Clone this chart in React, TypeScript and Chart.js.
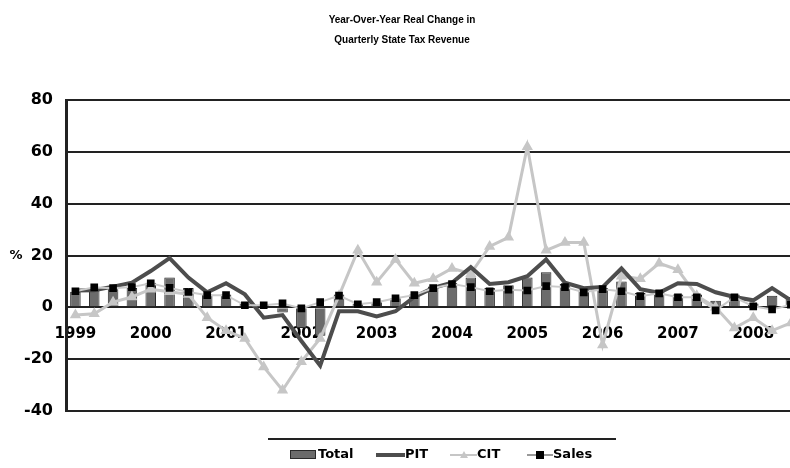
import React, { useEffect, useRef } from "react";
import Chart from "chart.js/auto";

const categories = [
  "1999Q1","1999Q2","1999Q3","1999Q4",
  "2000Q1","2000Q2","2000Q3","2000Q4",
  "2001Q1","2001Q2","2001Q3","2001Q4",
  "2002Q1","2002Q2","2002Q3","2002Q4",
  "2003Q1","2003Q2","2003Q3","2003Q4",
  "2004Q1","2004Q2","2004Q3","2004Q4",
  "2005Q1","2005Q2","2005Q3","2005Q4",
  "2006Q1","2006Q2","2006Q3","2006Q4",
  "2007Q1","2007Q2","2007Q3","2007Q4",
  "2008Q1","2008Q2","2008Q3",
];

const totalValues = [
  6, 6.5, 7, 7.5, 9.5, 11.5, 7.5, 5, 5, 1.5, 1, -2, -8, -11, 5, 1.5, 2, 3.5, 5, 8,
  9.5, 11.5, 7.5, 8.5, 11.5, 13.5, 9, 7, 7.5, 10, 5.5, 6, 5, 5, 2.5, 5, 1.5, 4.5, 4,
];
const pitValues = [
  6.5, 6.6, 8, 9.5, 14, 19, 11.5, 5.8, 9.3, 5, -4, -3, -13, -22.5, -1.5, -1.5, -3.5, -1.5, 4, 7.5,
  9.5, 15.5, 9, 9.7, 12, 18.5, 9.5, 7.4, 7.8, 15, 7, 5.6, 9.3, 9, 5.8, 4, 2.7, 7.4, 2.7,
];
const citValues = [
  -3, -2.5, 2, 4, 7, 6, 5, -4, -9, -12, -23, -32, -21, -12, 4.5, 22, 9.7, 18.5, 9.3, 11,
  15, 13, 23.5, 27, 62, 22, 25, 25, -14.5, 12, 11, 17, 14.5, 4.5, 0, -8, -4, -9, -6,
];
const salesValues = [
  6.2, 7.7, 7.4, 7.8, 9.3, 7.5, 5.9, 4.7, 4.7, 0.8, 0.8, 1.5, -0.4, 2, 4.5, 1.2, 2, 3.5, 4.7, 7.4,
  9, 7.8, 6.2, 6.8, 6.5, 8.2, 7.8, 5.8, 7, 6.2, 4.3, 5.4, 3.9, 3.9, -1.2, 3.9, 0.4, -0.8, 1,
];

const yTicks = [-40, -20, 0, 20, 40, 60, 80];
const titleLines = ["Year-Over-Year Real Change in", "Quarterly State Tax Revenue"];
const seriesNames = ["Total", "PIT", "CIT", "Sales"];

const FONT = '"Liberation Sans", Arial, sans-serif';
const WIDE = '"DejaVu Sans", sans-serif';

const C_BAR = "#6b6b6b";
const C_BAR_BORDER = "#2a2a2a";
const C_PIT = "#4d4d4d";
const C_CIT = "#c6c6c6";
const C_SALES_LINE = "#cacaca";

const decorPlugin = {
  id: "decor",
  afterDraw(chart: any) {
    const ctx = chart.ctx;
    ctx.save();
    // title
    ctx.fillStyle = "#000";
    ctx.font = `bold 10px ${FONT}`;
    ctx.textAlign = "center";
    ctx.textBaseline = "middle";
    ctx.fillText(titleLines[0], 402, 20);
    ctx.fillText(titleLines[1], 402, 40);
    // % axis title
    ctx.font = `bold 13px ${WIDE}`;
    ctx.textAlign = "center";
    const yMid = chart.scales.y.getPixelForValue(20);
    ctx.fillText("%", 16, yMid);
    // legend
    const ly = 455;
    ctx.strokeStyle = "#222";
    ctx.lineWidth = 2;
    ctx.beginPath();
    ctx.moveTo(268, 439);
    ctx.lineTo(616, 439);
    ctx.stroke();
    ctx.font = `bold 13px ${WIDE}`;
    ctx.textAlign = "left";
    // Total
    ctx.fillStyle = C_BAR;
    ctx.fillRect(290, ly - 5, 26, 9);
    ctx.strokeStyle = C_BAR_BORDER;
    ctx.lineWidth = 1;
    ctx.strokeRect(290.5, ly - 4.5, 25, 8);
    ctx.fillStyle = "#000";
    ctx.fillText(seriesNames[0], 318, ly);
    // PIT
    ctx.strokeStyle = C_PIT;
    ctx.lineWidth = 4;
    ctx.beginPath();
    ctx.moveTo(376, ly);
    ctx.lineTo(405, ly);
    ctx.stroke();
    ctx.fillStyle = "#000";
    ctx.fillText(seriesNames[1], 405, ly);
    // CIT
    ctx.strokeStyle = C_CIT;
    ctx.lineWidth = 2;
    ctx.beginPath();
    ctx.moveTo(450, ly);
    ctx.lineTo(477, ly);
    ctx.stroke();
    ctx.fillStyle = C_CIT;
    ctx.beginPath();
    ctx.moveTo(464, ly - 4);
    ctx.lineTo(468, ly + 3);
    ctx.lineTo(460, ly + 3);
    ctx.closePath();
    ctx.fill();
    ctx.fillStyle = "#000";
    ctx.fillText(seriesNames[2], 477, ly);
    // Sales
    ctx.strokeStyle = "#999";
    ctx.lineWidth = 2;
    ctx.beginPath();
    ctx.moveTo(527, ly);
    ctx.lineTo(553, ly);
    ctx.stroke();
    ctx.fillStyle = "#000";
    ctx.fillRect(536, ly - 4, 8, 8);
    ctx.fillText(seriesNames[3], 553, ly);
    ctx.restore();
  },
};

export default function App() {
  const ref = useRef<HTMLCanvasElement | null>(null);
  useEffect(() => {
    if (!ref.current) return;
    const chart = new Chart(ref.current, {
      type: "bar",
      data: {
        labels: categories,
        datasets: [
          {
            type: "bar",
            label: seriesNames[0],
            data: totalValues,
            backgroundColor: C_BAR,
            borderColor: C_BAR_BORDER,
            borderWidth: 1,
            barPercentage: 0.56,
            categoryPercentage: 1,
            order: 4,
          },
          {
            type: "line",
            label: seriesNames[2],
            data: citValues,
            borderColor: C_CIT,
            borderWidth: 3,
            pointStyle: "triangle",
            pointRadius: 3.5,
            pointBackgroundColor: C_CIT,
            pointBorderColor: C_CIT,
            tension: 0,
            order: 3,
          },
          {
            type: "line",
            label: seriesNames[1],
            data: pitValues,
            borderColor: C_PIT,
            borderWidth: 4,
            pointRadius: 0,
            tension: 0,
            order: 2,
          },
          {
            type: "line",
            label: seriesNames[3],
            data: salesValues,
            borderColor: C_SALES_LINE,
            borderWidth: 2,
            pointStyle: "rect",
            pointRadius: 4,
            pointBackgroundColor: "#000",
            pointBorderColor: "#000",
            tension: 0,
            order: 1,
          },
        ],
      },
      options: {
        responsive: false,
        animation: false,
        devicePixelRatio: 1,
        layout: { padding: { left: 0, right: 1, top: 100, bottom: 57 } },
        plugins: {
          legend: { display: false },
          tooltip: { enabled: false },
          title: { display: false },
        },
        scales: {
          x: {
            type: "category",
            position: { y: 0 },
            offset: true,
            grid: { display: false, drawTicks: false },
            border: { display: false },
            ticks: {
              autoSkip: false,
              maxRotation: 0,
              minRotation: 0,
              padding: 18,
              color: "#000",
              font: { family: WIDE, size: 15, weight: "bold" },
              callback: (_v: any, i: number) =>
                categories[i].endsWith("Q1") ? categories[i].slice(0, 4) : "",
            },
          },
          y: {
            min: yTicks[0],
            max: yTicks[yTicks.length - 1],
            afterBuildTicks: (scale: any) => {
              scale.ticks = yTicks.map((v) => ({ value: v }));
            },
            afterFit: (scale: any) => {
              scale.width = 66;
            },
            grid: { color: "#222", lineWidth: 2, drawTicks: false },
            border: { display: true, color: "#222", width: 3 },
            ticks: {
              padding: 13,
              color: "#000",
              font: { family: WIDE, size: 16, weight: "bold" },
            },
          },
        },
      },
      plugins: [decorPlugin],
    } as any);
    return () => chart.destroy();
  }, []);
  return (
    <div
      style={{
        position: "fixed",
        left: 0,
        top: 0,
        width: 790,
        height: 468,
        overflow: "hidden",
        background: "#fff",
      }}
    >
      <canvas ref={ref} width={809} height={468} style={{ display: "block" }} />
    </div>
  );
}
